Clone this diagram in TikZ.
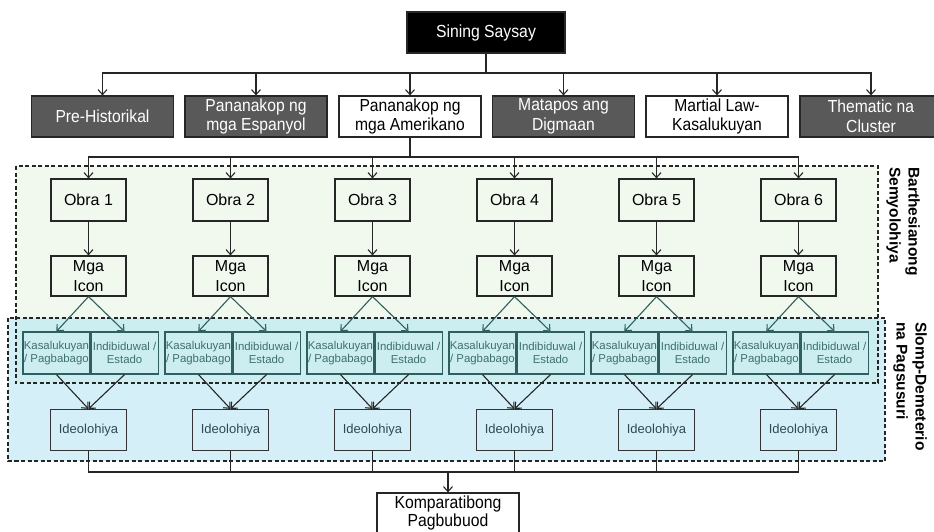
\documentclass[tikz,border=0pt]{standalone}
\usepackage{fontspec}
\setmainfont{Liberation Sans}
\newfontfamily\narrowsans[FakeStretch=0.9]{Liberation Sans}
\usetikzlibrary{arrows.meta, positioning}

\definecolor{eradark}{HTML}{595959}
\definecolor{bartgreen}{HTML}{F1F8EE}
\definecolor{slompblue}{HTML}{D5EFF9}
\definecolor{overlapcyan}{HTML}{CDEEF1}
\definecolor{tealline}{HTML}{2F5F5F}
\definecolor{tealtext}{HTML}{3E6F6F}
\definecolor{ideotext}{HTML}{2B4A55}

\begin{document}
\begin{tikzpicture}[x=1pt, y=-1pt,
	every node/.style={align=center, inner sep=0pt, font=\fontsize{16}{20}\selectfont},
	box/.style={draw=black!85, line width=1.2pt, minimum width=75pt, minimum height=41pt},
	root/.style={box, fill=black, text=white, minimum width=158pt, font=\narrowsans\fontsize{17.5}{20}\selectfont},
	darkera/.style={box, fill=eradark, text=white, minimum width=142pt, font=\narrowsans\fontsize{17.4}{19.5}\selectfont},
	lightera/.style={darkera, fill=white, text=black},
	obra/.style={box, minimum height=42pt},
	icon/.style={box, minimum height=40pt},
	tagbox/.style={draw=tealline, line width=1.1pt, fill=overlapcyan, text=tealtext, minimum width=67pt, minimum height=42pt, font=\fontsize{11.4}{12.6}\selectfont},
	ideo/.style={box, draw=black!80, fill=slompblue, text=ideotext, minimum width=76pt, font=\fontsize{13}{16}\selectfont},
	zone/.style={draw=black!85, line width=1.1pt, dash pattern=on 4pt off 2.5pt},
	zonelabel/.style={rotate=-90, align=left, font=\fontsize{15.5}{19}\selectfont\bfseries},
	line/.style={draw=black!85, line width=1.1pt},
	arr/.style={line, -{Straight Barb[length=5pt,width=9pt]}},
	tealarr/.style={arr, draw=tealline}
]
	\clip (0,0) rectangle (934,532);

	% shaded zones
	\fill[bartgreen] (16,166) rectangle (878,383);
	\fill[slompblue] (8,318) rectangle (885,461);
	\fill[overlapcyan] (16,318) rectangle (878,383);
	\draw[zone] (16,166) rectangle (878,383);
	\draw[zone] (8,318) rectangle (885,461);
	\node[zonelabel, anchor=north west] (bartlabel) at (920,167) {Barthesianong\\Semyolohiya};
	\node[zonelabel, anchor=north west] (slomplabel) at (927,322) {Slomp-Demeterio\\na Pagsusuri};

	% top of the tree
	\node[root] (saysay) at (486,32.5) {Sining Saysay};
	\coordinate (fork1) at (486,73);
	\draw[line] (saysay.south) -- (fork1);
	\foreach \i/\x/\kind/\label in {1/102.5/darkera/{Pre-Historikal}, 2/256/darkera/{Pananakop ng\\mga Espanyol}, 3/410/lightera/{Pananakop ng\\mga Amerikano}, 4/563.5/darkera/{Matapos ang\\Digmaan}, 5/717/lightera/{Martial Law-\\Kasalukuyan}, 6/871/darkera/{Thematic na\\Cluster}} {
			\node[\kind] (era\i) at (\x,116.5) {\label};
			\draw[arr] (fork1) -| (era\i.north);
		}

	\coordinate (fork2) at (410,157);
	\draw[line] (era3.south) -- (fork2);
	\coordinate (fork3) at (448,472);
	\node[box, minimum width=142pt, minimum height=40pt, font=\narrowsans\fontsize{17.5}{18}\selectfont] (komp) at (448,513) {Komparatibong\\Pagbubuod};
	\draw[arr] (fork3) -- (komp.north);

	% the six works
	\foreach \i in {1,...,6} {
			\pgfmathsetmacro{\cx}{88.5+142*(\i-1)}
			\node[obra] (obra\i) at (\cx,200) {Obra \i};
			\node[icon] (icon\i) at (\cx,276) {Mga\\Icon};
			\node[tagbox, anchor=east] (kas\i) at (\cx+2,353) {Kasalukuyan\\/ Pagbabago};
			\node[tagbox, anchor=west] (ind\i) at (\cx+2,353) {Indibiduwal /\\Estado};
			\node[ideo] (ideo\i) at (\cx,430) {Ideolohiya};
			\draw[arr] (fork2) -| (obra\i.north);
			\draw[arr] (obra\i) -- (icon\i);
			\draw[tealarr] (icon\i.south) -- (kas\i.north);
			\draw[tealarr] (icon\i.south) -- (ind\i.north);
			\draw[arr] (kas\i.south) -- (ideo\i.north);
			\draw[arr] (ind\i.south) -- (ideo\i.north);
			\draw[line] (ideo\i.south) |- (fork3);
		}
\end{tikzpicture}
\end{document}
